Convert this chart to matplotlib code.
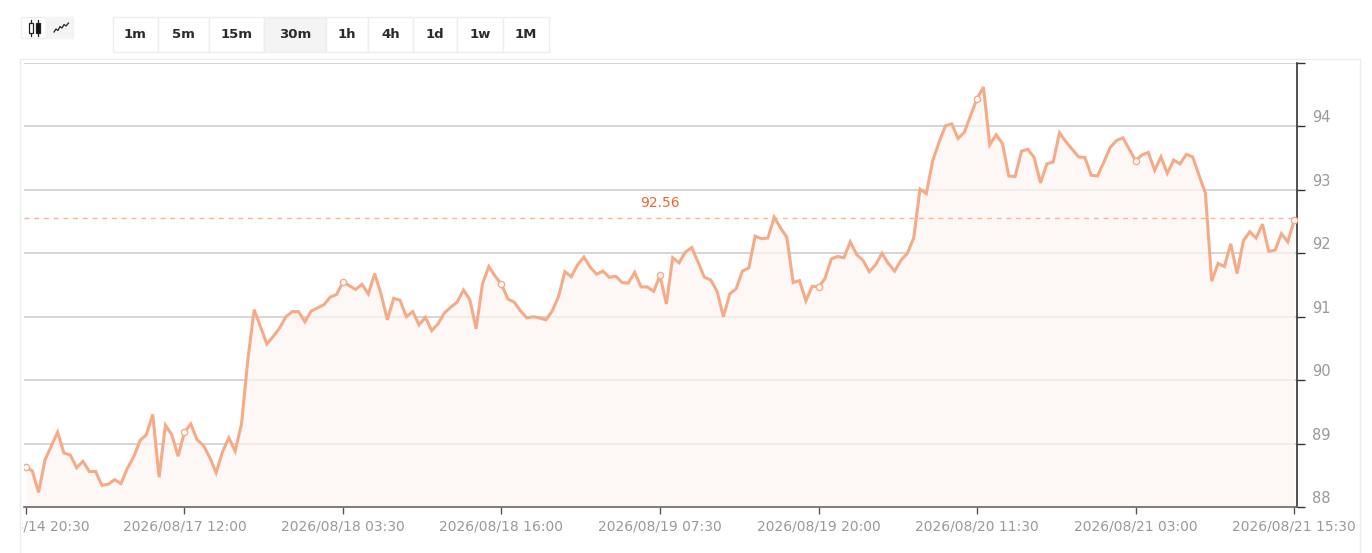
import numpy as np
import matplotlib
matplotlib.use("Agg")
import matplotlib.pyplot as plt
from matplotlib.patches import Rectangle
from matplotlib.lines import Line2D
from matplotlib.transforms import ScaledTranslation, Bbox, TransformedBbox

# 30m close prices
prices = [
    88.63, 88.57, 88.23, 88.74, 88.96, 89.18, 88.85, 88.82, 88.62, 88.72,
    88.56, 88.56, 88.34, 88.36, 88.43, 88.37, 88.61, 88.79, 89.05, 89.14,
    89.46, 88.47, 89.29, 89.14, 88.80, 89.18, 89.31, 89.06, 88.97, 88.78,
    88.54, 88.87, 89.09, 88.88, 89.31, 90.32, 91.11, 90.84, 90.57, 90.69,
    90.82, 91.00, 91.08, 91.08, 90.92, 91.09, 91.14, 91.19, 91.31, 91.35,
    91.55, 91.49, 91.43, 91.51, 91.36, 91.68, 91.36, 90.95, 91.29, 91.26,
    91.00, 91.08, 90.87, 90.99, 90.78, 90.89, 91.06, 91.15, 91.23, 91.42,
    91.27, 90.81, 91.52, 91.79, 91.64, 91.51, 91.28, 91.23, 91.09, 90.98,
    91.00, 90.98, 90.95, 91.09, 91.32, 91.71, 91.63, 91.82, 91.94, 91.78,
    91.67, 91.72, 91.62, 91.64, 91.54, 91.53, 91.70, 91.47, 91.47, 91.40,
    91.65, 91.20, 91.93, 91.85, 92.02, 92.09, 91.86, 91.62, 91.58, 91.40,
    91.00, 91.36, 91.44, 91.72, 91.77, 92.27, 92.23, 92.24, 92.57, 92.40,
    92.25, 91.54, 91.57, 91.25, 91.48, 91.47, 91.60, 91.91, 91.95, 91.93,
    92.18, 91.98, 91.89, 91.71, 91.82, 92.00, 91.84, 91.72, 91.89, 92.00,
    92.24, 93.01, 92.94, 93.46, 93.75, 94.01, 94.04, 93.81, 93.91, 94.18,
    94.44, 94.62, 93.71, 93.87, 93.73, 93.22, 93.21, 93.61, 93.64, 93.51,
    93.11, 93.41, 93.44, 93.90, 93.76, 93.64, 93.52, 93.51, 93.23, 93.22,
    93.44, 93.67, 93.78, 93.82, 93.64, 93.46, 93.55, 93.59, 93.31, 93.52,
    93.26, 93.47, 93.41, 93.56, 93.52, 93.23, 92.95, 91.56, 91.84, 91.79,
    92.15, 91.68, 92.20, 92.34, 92.24, 92.46, 92.03, 92.05, 92.31, 92.18,
    92.52,
]
tick_every = 25
time_labels = [
    "2026/08/14 20:30", "2026/08/17 12:00", "2026/08/18 03:30",
    "2026/08/18 16:00", "2026/08/19 07:30", "2026/08/19 20:00",
    "2026/08/20 11:30", "2026/08/21 03:00", "2026/08/21 15:30",
]
y_ticks = [88, 89, 90, 91, 92, 93, 94, 95]
ref_price = 92.56
intervals = ["1m", "5m", "15m", "30m", "1h", "4h", "1d", "1w", "1M"]
active_interval = "30m"

W, H, DPI = 1372, 553, 100
LINE = "#f6ab88"
GRAY = "#999999"

plt.rcParams["font.family"] = ["DejaVu Sans"]
fig = plt.figure(figsize=(W / DPI, H / DPI), dpi=DPI)
fig.patch.set_facecolor("white")


def fx(x):
    return x / W


def fy(y):
    return 1 - y / H


def box(x0, y0, x1, y1, fc="white", ec="#eeeeee", lw=1, z=1):
    fig.add_artist(Rectangle((fx(x0), fy(y1)), (x1 - x0) / W, (y1 - y0) / H,
                             transform=fig.transFigure, fc=fc, ec=ec, lw=lw, zorder=z))


# outer chart container
box(20, 59, 1360, 560, fc="none", ec="#ececec")

# chart type icons
box(21, 17, 46, 38)
box(46, 17, 73, 38, fc="#f4f4f4", ec="#f4f4f4")
for cx, filled in [(30.5, False), (37.5, True)]:
    fig.add_artist(Line2D([fx(cx), fx(cx)], [fy(20), fy(36)], transform=fig.transFigure,
                          color="#222", lw=0.9, zorder=3))
    box(cx - 2, 23, cx + 2, 33, fc="#111" if filled else "white", ec="#222", lw=0.9, z=4)
wx = [54, 56, 58, 60, 62, 64, 66, 68.5]
wy = [32, 29, 30.5, 26.5, 28, 24.5, 26, 23]
fig.add_artist(Line2D([fx(v) for v in wx], [fy(v) for v in wy], transform=fig.transFigure,
                      color="#222", lw=0.9, zorder=3))

# interval buttons
edges = [112.5, 158, 209, 264, 326, 368, 413, 457, 503, 549]
for i, lab in enumerate(intervals):
    fc = "#f4f4f4" if lab == active_interval else "white"
    box(edges[i], 17, edges[i + 1], 52, fc=fc, ec="#eeeeee")
    fig.text(fx((edges[i] + edges[i + 1]) / 2), fy(35), lab, ha="center", va="center",
             fontsize=9.5, fontweight="bold", color="#2b2b2b")

# price chart
ax = fig.add_axes([fx(24), fy(507), (1297 - 24) / W, (507 - 63) / H])
x = np.arange(len(prices))
ax.set_xlim(-0.3, len(prices) - 1 + 0.45)
ax.set_ylim(88, 95)

for v in y_ticks[1:]:
    ax.axhline(v, color="#d2d2d2", lw=1.3, zorder=1)
ax.fill_between(x, prices, 88, color="#fdf6f2", alpha=0.75, lw=0, zorder=2)
ax.axhline(ref_price, color="#f9b398", lw=1, ls=(0, (3.5, 3.5)), zorder=3)
ax.plot(x, prices, color=LINE, lw=2.2, zorder=4, solid_joinstyle="miter")
ax.plot(x[::tick_every], np.array(prices)[::tick_every], "o", ms=4.5, mfc="white",
        mec=LINE, mew=1, zorder=5, ls="none")
ax.annotate(f"{ref_price:.2f}", (len(prices) // 2, ref_price), xytext=(0, 15),
            textcoords="offset pixels", ha="center", va="center", fontsize=10,
            color="#ef6330", zorder=6)

for s in ["left", "top"]:
    ax.spines[s].set_visible(False)
ax.spines["bottom"].set_color("#666666")
ax.spines["bottom"].set_linewidth(1.2)
ax.spines["right"].set_color("#333333")
ax.spines["right"].set_linewidth(1.2)

ax.yaxis.tick_right()
ax.set_yticks(y_ticks)
ax.set_yticklabels([str(v) for v in y_ticks[:-1]] + [""])
ax.tick_params(axis="y", length=6, width=1, color="#333333", labelcolor=GRAY,
               labelsize=10.5, pad=5)
ax.set_xticks(x[::tick_every])
ax.set_xticklabels(time_labels)
ax.tick_params(axis="x", length=5, width=1, color="#555555", labelcolor=GRAY,
               labelsize=10, pad=4)

up = ScaledTranslation(0, 10 / DPI, fig.dpi_scale_trans)
for lab in ax.get_yticklabels():
    lab.set_transform(lab.get_transform() + up)

# first time label is cut by the chart's left edge, as in the source
r = fig.canvas.get_renderer()
full = time_labels[0]
tail = full[full.index("/", 5):]
t1 = fig.text(0, 0, full, fontsize=10)
t2 = fig.text(0, 0, tail, fontsize=10)
cut = t1.get_window_extent(r).width - t2.get_window_extent(r).width + 3
t1.remove()
t2.remove()
first = ax.get_xticklabels()[0]
first.set_ha("left")
first.set_transform(first.get_transform() + ScaledTranslation(-cut / DPI, 0, fig.dpi_scale_trans))
first.set_clip_box(TransformedBbox(Bbox([[fx(22.5), 0], [1, 1]]), fig.transFigure))
first.set_clip_on(True)

fig.savefig("out.png", dpi=DPI, facecolor="white")
